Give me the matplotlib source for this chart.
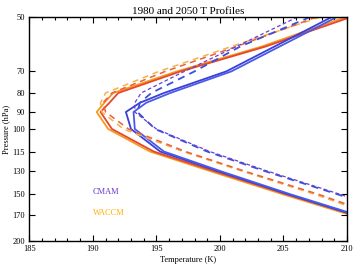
import matplotlib
matplotlib.use("Agg")
import matplotlib.pyplot as plt
from matplotlib.ticker import FixedLocator, NullLocator, MultipleLocator

plt.rcParams['font.family'] = ['Liberation Serif', 'DejaVu Serif']

# pressure levels (hPa)
levels = [50, 60, 70, 80, 85, 90, 100, 115, 130, 150, 170, 200]

# temperatures (K)
waccm_1980_a = [209.9, 203.3, 196.6, 191.6, 190.9, 190.3, 191.2, 194.5, 199.3, 205.0, 210.2, 216.5]
waccm_1980_b = [210.3, 203.6, 196.9, 192.0, 191.3, 190.6, 191.5, 194.8, 199.6, 205.3, 210.5, 216.8]
cmam_1980_a = [208.8, 204.3, 200.5, 195.6, 193.7, 192.6, 193.0, 195.3, 199.9, 205.4, 210.5, 217.0]
cmam_1980_b = [209.2, 204.7, 200.9, 196.1, 194.2, 193.2, 193.3, 195.6, 200.1, 205.6, 210.7, 217.2]
waccm_2050_a = [207.9, 200.9, 195.2, 191.0, 190.6, 190.7, 192.4, 197.1, 201.8, 207.5, 212.0, 218.0]
waccm_2050_b = [207.6, 201.3, 195.7, 191.5, 190.8, 191.0, 192.8, 197.3, 202.0, 207.8, 212.3, 218.5]
cmam_2050_a = [207.1, 201.6, 198.0, 194.6, 193.7, 193.5, 194.9, 199.0, 203.6, 209.3, 214.0, 220.0]
cmam_2050_b = [206.1, 201.3, 197.2, 193.8, 193.3, 193.3, 195.0, 199.2, 203.8, 209.5, 214.2, 220.2]

yticks = [50, 70, 80, 90, 100, 115, 130, 150, 170, 200]

fig = plt.figure(figsize=(3.54, 2.71), dpi=100)
ax = fig.add_axes([0.083, 0.111, 0.897, 0.826])

ax.plot(waccm_1980_a, levels, color='#f59a1f', lw=1.3)
ax.plot(waccm_1980_b, levels, color='#e8462a', lw=1.3)
ax.plot(cmam_1980_a, levels, color='#3a3fd8', lw=1.3)
ax.plot(cmam_1980_b, levels, color='#4a5ae8', lw=1.3)
ax.plot(waccm_2050_a, levels, color='#f7b04a', lw=1.1, dashes=(4, 3))
ax.plot(waccm_2050_b, levels, color='#e8603c', lw=1.1, dashes=(4, 3))
ax.plot(cmam_2050_a, levels, color='#3a50dd', lw=1.3, dashes=(4, 3))
ax.plot(cmam_2050_b, levels, color='#6a3fcf', lw=0.9, dashes=(3, 2))

ax.set_yscale('log')
ax.set_ylim(200, 50)
ax.set_xlim(185, 210)
ax.yaxis.set_major_locator(FixedLocator(yticks))
ax.yaxis.set_minor_locator(NullLocator())
ax.set_yticklabels([str(v) for v in yticks])
ax.xaxis.set_major_locator(MultipleLocator(5))
ax.xaxis.set_minor_locator(MultipleLocator(1))
ax.tick_params(which='both', direction='in', top=True, right=True, labelsize=6, pad=3)
ax.tick_params(which='major', length=4, width=0.8)
ax.tick_params(which='minor', length=2, width=0.8)
for s in ax.spines.values():
    s.set_linewidth(1.0)

ax.text(190, 148, "CMAM", color='#6633cc', fontsize=6, va='center', ha='left')
ax.text(190, 168, "WACCM", color='#ffb000', fontsize=6, va='center', ha='left')

ax.set_title("1980 and 2050 T Profiles", fontsize=8, pad=2)
ax.set_xlabel("Temperature (K)", fontsize=6, labelpad=2)
ax.set_ylabel("Pressure (hPa)", fontsize=6, labelpad=2)

fig.savefig("out.png", dpi=100)
